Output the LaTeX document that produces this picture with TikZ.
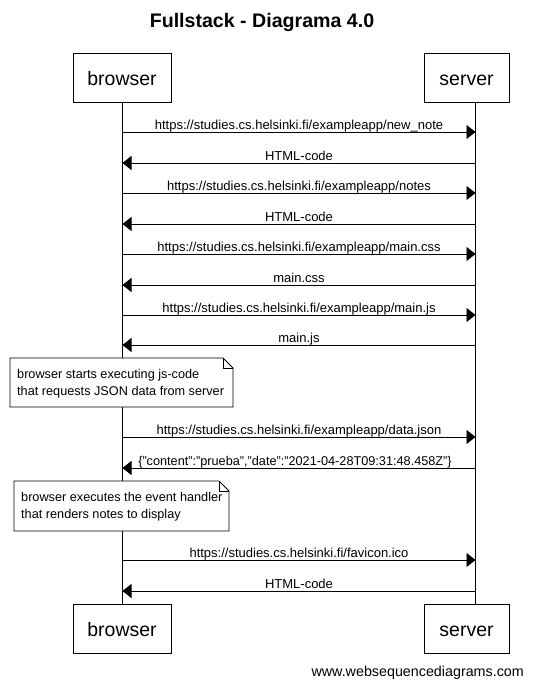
\documentclass[tikz,border=0pt]{standalone}
\usepackage{fontspec}
\setmainfont{Liberation Sans}
\usetikzlibrary{arrows.meta}
\tikzset{
  actor/.style={draw, line width=0.9pt, minimum width=98pt, minimum height=49pt, inner sep=0pt, text height=19pt, text depth=4pt, font=\fontsize{19.5}{22}\selectfont},
  actorS/.style={actor, minimum width=85pt},
  life/.style={line width=0.9pt},
  msg/.style={line width=0.9pt, -{Triangle[length=9pt,width=14pt]}},
  lbl/.style={font=\fontsize{13}{15}\selectfont, inner sep=0pt, anchor=base, yshift=3pt},
  notetxt/.style={font=\fontsize{12.7}{17}\selectfont, align=left, inner sep=0pt, anchor=north west},
  notebox/.style={draw, line width=0.9pt, fill=white},
}
\begin{document}
\begin{tikzpicture}[x=1pt,y=-1pt]
\useasboundingbox (0,0) rectangle (533,688);
\node[font=\bfseries\fontsize{19.6}{22}\selectfont, inner sep=0pt] (title) at (262,22) {Fullstack - Diagrama 4.0};
\node[actor] (bt) at (122,77.5) {browser};
\node[actorS] (st) at (466.5,77.5) {server};
\node[actor] (bb) at (122,628.5) {browser};
\node[actorS] (sb) at (466.5,628.5) {server};
\coordinate (bl) at (122.5,101.5);
\coordinate (sl) at (475.5,101.5);
\draw[life] (bt.south -| bl) -- (bb.north -| bl);
\draw[life] (st.south -| sl) -- (sb.north -| sl);
% messages
\foreach \i/\y in {1/132,2/163,3/193,4/224,5/254,6/285,7/315,8/345,9/437,10/468,11/560,12/591}{
  \coordinate (b\i) at (122.5,\y);
  \coordinate (s\i) at (475.5,\y);
}
\draw[msg] (b1) -- (s1) node[lbl, midway] (m1) {https://studies.cs.helsinki.fi/exampleapp/new\_note};
\draw[msg] (s2) -- (b2) node[lbl, midway] (m2) {HTML-code};
\draw[msg] (b3) -- (s3) node[lbl, midway] (m3) {https://studies.cs.helsinki.fi/exampleapp/notes};
\draw[msg] (s4) -- (b4) node[lbl, midway] (m4) {HTML-code};
\draw[msg] (b5) -- (s5) node[lbl, midway] (m5) {https://studies.cs.helsinki.fi/exampleapp/main.css};
\draw[msg] (s6) -- (b6) node[lbl, midway] (m6) {main.css};
\draw[msg] (b7) -- (s7) node[lbl, midway] (m7) {https://studies.cs.helsinki.fi/exampleapp/main.js};
\draw[msg] (s8) -- (b8) node[lbl, midway] (m8) {main.js};
\draw[msg] (b9) -- (s9) node[lbl, midway] (m9) {https://studies.cs.helsinki.fi/exampleapp/data.json};
\draw[msg] (s10) -- (b10) node[lbl, midway, xshift=-4pt, font=\fontsize{12.7}{15}\selectfont] (m10) {\{"content":"prueba","date":"2021-04-28T09:31:48.458Z"\}};
\draw[msg] (b11) -- (s11) node[lbl, midway] (m11) {https://studies.cs.helsinki.fi/favicon.ico};
\draw[msg] (s12) -- (b12) node[lbl, midway] (m12) {HTML-code};
% note 1
\coordinate (n1a) at (10,358);
\coordinate (n1b) at (233,407);
\draw[notebox] (n1a) -- (223,358) -- (233,368) -- (n1b) -- (10,407) -- cycle;
\draw[line width=0.9pt] (223,358) -- (223,368) -- (233,368);
\node[notetxt] (note1) at (17,369.5) {browser starts executing js-code\\that requests JSON data from server};
% note 2
\coordinate (n2a) at (14,481);
\coordinate (n2b) at (229,531);
\draw[notebox] (n2a) -- (219,481) -- (229,491) -- (n2b) -- (14,531) -- cycle;
\draw[line width=0.9pt] (219,481) -- (219,491) -- (229,491);
\node[notetxt] (note2) at (21,492.5) {browser executes the event handler\\that renders notes to display};
\node[font=\fontsize{14.3}{16}\selectfont, inner sep=0pt, anchor=base east] (foot) at (524,676) {www.websequencediagrams.com};
\end{tikzpicture}
\end{document}
